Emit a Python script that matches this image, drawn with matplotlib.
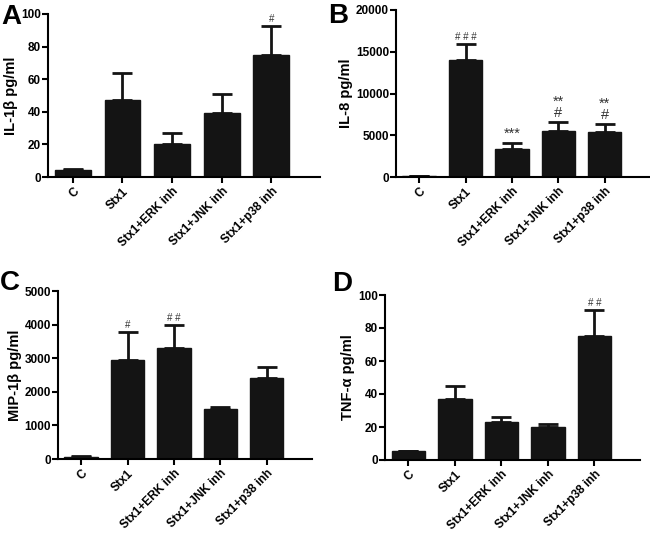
import matplotlib.pyplot as plt

plt.rcParams['font.family'] = ['Liberation Sans', 'DejaVu Sans']
plt.rcParams['font.weight'] = 'bold'

groups = ["C", "Stx1", "Stx1+ERK inh", "Stx1+JNK inh", "Stx1+p38 inh"]

il1b_mean = [4, 47.5, 20.5, 39.5, 75]
il1b_err = [1, 16.5, 6.5, 11.5, 17.5]
il1b_marks = ["", "", "", "", "#"]

il8_mean = [60, 14000, 3300, 5500, 5400]
il8_err = [20, 1950, 800, 1100, 950]
il8_marks = ["", "# # #", "***", "**\n#", "**\n#"]

mip_mean = [60, 2950, 3300, 1490, 2420]
mip_err = [15, 830, 680, 70, 310]
mip_marks = ["", "#", "# #", "", ""]

tnf_mean = [5.2, 37, 23, 20, 75]
tnf_err = [0.5, 8, 3, 2, 16]
tnf_marks = ["", "", "", "", "# #"]

# letter, ylabel, data, y max, y step, axes box (px), letter pos (px)
panels = [
    ("A", "IL-1β pg/ml", il1b_mean, il1b_err, il1b_marks, 100, 20, [48, 320, 14, 177], (1, 4)),
    ("B", "IL-8 pg/ml", il8_mean, il8_err, il8_marks, 20000, 5000, [396, 650, 10, 177], (328, 3)),
    ("C", "MIP-1β pg/ml", mip_mean, mip_err, mip_marks, 5000, 1000, [58, 312, 291, 459], (0, 270)),
    ("D", "TNF-α pg/ml", tnf_mean, tnf_err, tnf_marks, 100, 20, [385, 640, 295, 460], (332, 271)),
]

W, H = 650, 534
fig = plt.figure(figsize=(W / 100, H / 100), dpi=100)

for letter, ylab, mean, err, marks, ymax, step, box, lpos in panels:
    l, r, t, b = box
    ax = fig.add_axes([l / W, 1 - b / H, (r - l) / W, (b - t) / H])
    x = range(len(groups))
    ax.bar(x, mean, width=0.72, color="#141414", edgecolor="#141414", zorder=2)
    ax.errorbar(x, mean, yerr=[[0] * len(err), err], fmt="none", ecolor="#141414",
                elinewidth=2, capsize=7, capthick=2, zorder=1)
    for xi, m, e, s in zip(x, mean, err, marks):
        if s:
            ax.text(xi, m + e + ymax * 0.012, s, ha="center", va="bottom",
                    fontsize=7 if "*" not in s else 10.5, fontweight="normal",
                    linespacing=0.7, color="#333333")
    ax.set_xlim(-0.5, 4.98)
    ax.set_ylim(0, ymax)
    ax.set_yticks(range(0, ymax + 1, step))
    ax.set_xticks(list(x))
    ax.set_xticklabels(groups, rotation=45, ha="right", rotation_mode="anchor",
                       fontsize=8.6, fontweight="bold")
    ax.tick_params(axis="y", labelsize=8.5, width=1.5, length=4, pad=1)
    ax.tick_params(axis="x", width=1.5, length=4, pad=2)
    for lab in ax.get_yticklabels():
        lab.set_fontweight("bold")
    ax.set_ylabel(ylab, fontsize=10.5, fontweight="bold", labelpad=2)
    for side in ["top", "right"]:
        ax.spines[side].set_visible(False)
    for side in ["left", "bottom"]:
        ax.spines[side].set_linewidth(1.5)
    fig.text(lpos[0] / W, 1 - lpos[1] / H, letter, fontsize=20, fontweight="bold",
             ha="left", va="top")

fig.savefig("out.png", dpi=100)
